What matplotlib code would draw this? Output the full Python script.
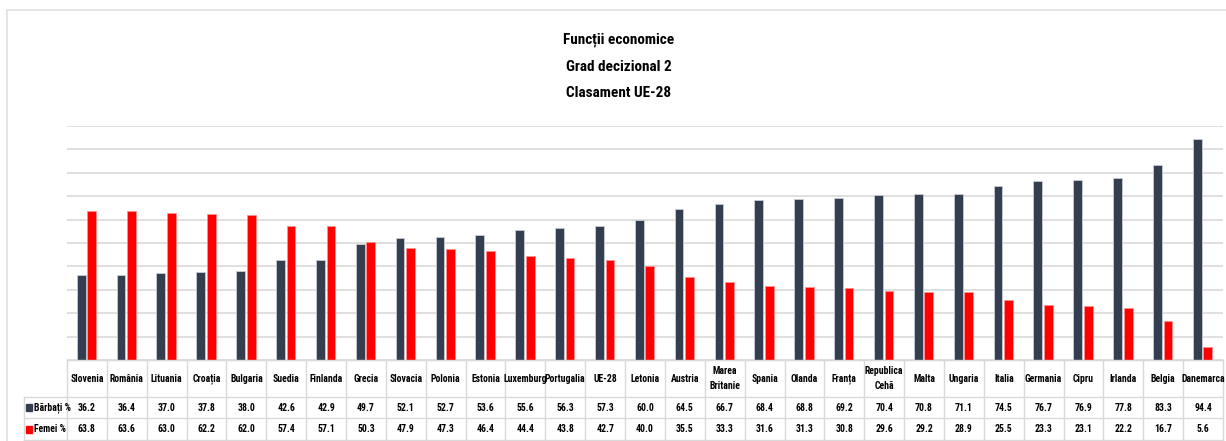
import numpy as np
import matplotlib.pyplot as plt
from matplotlib import font_manager
from matplotlib.patches import Rectangle

# a narrow font looks closest to the original Calibri text
nume_fonturi = {f.name for f in font_manager.fontManager.ttflist}
font = 'Roboto'
for cand in ['Liberation Sans Narrow', 'Roboto Condensed', 'Open Sans Condensed',
             'DejaVu Sans Condensed']:
    if cand in nume_fonturi:
        font = cand
        break
plt.rcParams['font.family'] = [font, 'DejaVu Sans']

# data
tari = ['Slovenia', 'România', 'Lituania', 'Croația', 'Bulgaria', 'Suedia', 'Finlanda',
        'Grecia', 'Slovacia', 'Polonia', 'Estonia', 'Luxemburg', 'Portugalia', 'UE-28',
        'Letonia', 'Austria', 'Marea\nBritanie', 'Spania', 'Olanda', 'Franța',
        'Republica\nCehă', 'Malta', 'Ungaria', 'Italia', 'Germania', 'Cipru', 'Irlanda',
        'Belgia', 'Danemarca']
barbati = [36.2, 36.4, 37.0, 37.8, 38.0, 42.6, 42.9, 49.7, 52.1, 52.7, 53.6, 55.6, 56.3,
           57.3, 60.0, 64.5, 66.7, 68.4, 68.8, 69.2, 70.4, 70.8, 71.1, 74.5, 76.7, 76.9,
           77.8, 83.3, 94.4]
femei = [63.8, 63.6, 63.0, 62.2, 62.0, 57.4, 57.1, 50.3, 47.9, 47.3, 46.4, 44.4, 43.8,
         42.7, 40.0, 35.5, 33.3, 31.6, 31.3, 30.8, 29.6, 29.2, 28.9, 25.5, 23.3, 23.1,
         22.2, 16.7, 5.6]
serii = ['Bărbați %', 'Femei %']
culori = ['#333f50', '#ff0000']

W, H = 1226, 441
fig = plt.figure(figsize=(W / 100, H / 100), dpi=100)
grid_c = '#d9d9d9'
narrow = font != 'Roboto'
fs_t = 11 if narrow else 10
fs = 7 if narrow else 6.2

# outer frame
fig.patches.append(Rectangle((7 / W, -0.01), 1.02, (H - 10) / H + 0.01, transform=fig.transFigure,
                             fill=False, edgecolor='#e0e0e0', lw=1.2))

x0, x1 = 67, 1223
ax = fig.add_axes([x0 / W, (H - 360) / H, (x1 - x0) / W, 234 / H])
n = len(tari)
x = np.arange(n)
bw = 0.22
ax.bar(x - 0.145, barbati, bw, color=culori[0], edgecolor='#c8ccd4', lw=0.6, zorder=3)
ax.bar(x + 0.12, femei, bw, color=culori[1], edgecolor='#ff9090', lw=0.6, zorder=3)
ax.set_xlim(-0.5, n - 0.5)
ax.set_ylim(0, 100)
ax.set_yticks(np.arange(0, 101, 10))
ax.yaxis.grid(True, color=grid_c, lw=1.2)
ax.set_axisbelow(True)
ax.tick_params(left=False, bottom=False, labelleft=False, labelbottom=False)
for s in ax.spines.values():
    s.set_visible(False)

fig.text(619 / W, (H - 40) / H, 'Funcții economice', ha='center', va='center',
         fontsize=fs_t, fontweight='bold')
fig.text(619 / W, (H - 67) / H, 'Grad decizional 2', ha='center', va='center',
         fontsize=fs_t, fontweight='bold')
fig.text(619 / W, (H - 93) / H, 'Clasament UE-28', ha='center', va='center',
         fontsize=fs_t, fontweight='bold')

# data table under the chart (coordinates in pixels from top)
tax = fig.add_axes([x0 / W, 0, (x1 - x0) / W, 81 / H])
tax.set_xlim(-0.5, n - 0.5)
tax.set_ylim(441, 360)
tax.axis('off')
colw = (x1 - x0) / n
lab_x = -0.5 - (x0 - 24) / colw
rows = [360, 397, 418, 440]
for i in range(n + 1):
    tax.plot([i - 0.5, i - 0.5], [rows[0], rows[-1]], color=grid_c, lw=1, clip_on=False)
tax.plot([lab_x, lab_x], [rows[1], rows[-1]], color=grid_c, lw=1, clip_on=False)
tax.plot([-0.5, n - 0.5], [rows[0], rows[0]], color=grid_c, lw=1, clip_on=False)
for r in rows[1:]:
    tax.plot([lab_x, n - 0.5], [r, r], color=grid_c, lw=1, clip_on=False)

for i in range(n):
    tax.text(i, (rows[0] + rows[1]) / 2, tari[i], ha='center', va='center', fontsize=fs,
             fontweight='bold', linespacing=1.6, clip_on=False)
    tax.text(i, (rows[1] + rows[2]) / 2, f'{barbati[i]:.1f}', ha='center', va='center',
             fontsize=fs, fontweight='bold', clip_on=False)
    tax.text(i, (rows[2] + rows[3]) / 2, f'{femei[i]:.1f}', ha='center', va='center',
             fontsize=fs, fontweight='bold', clip_on=False)

for k, (nume, c) in enumerate(zip(serii, culori)):
    yc = (rows[k + 1] + rows[k + 2]) / 2
    tax.add_patch(Rectangle((lab_x + 2.5 / colw, yc - 3.5), 6 / colw, 7, color=c,
                            clip_on=False))
    tax.text(lab_x + 9.5 / colw, yc, nume, ha='left', va='center', fontsize=fs,
             fontweight='bold', clip_on=False)

fig.savefig('out.png', dpi=100)
